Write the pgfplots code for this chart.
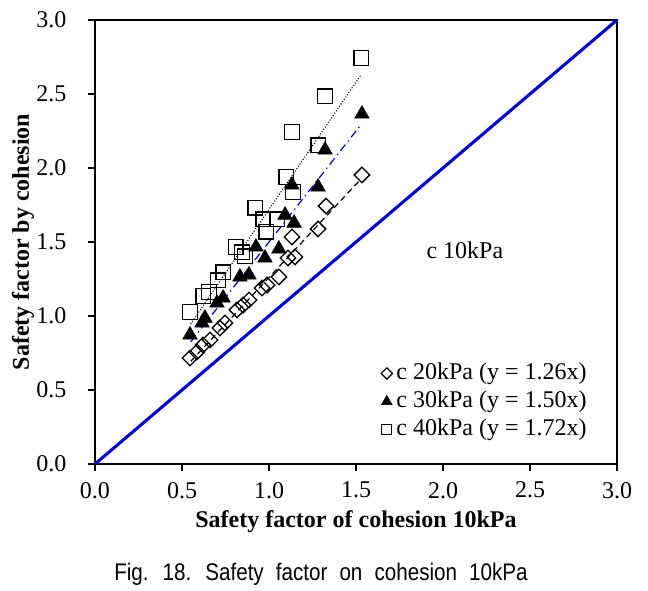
\documentclass[border=0pt]{standalone}
\usepackage{fontspec}
\setmainfont{Liberation Serif}
\newfontfamily\capfont[FakeStretch=0.86, WordSpace=2.1]{Liberation Sans}
\usepackage{pgfplots}
\pgfplotsset{compat=1.18}
\definecolor{lineblue}{RGB}{0,0,220}
\begin{document}
\begin{tikzpicture}
\useasboundingbox (-71.25pt,-95.25pt) rectangle (414.75pt,348pt);
\begin{axis}[
  scale only axis, width=391.5pt, height=333pt,
  xmin=0, xmax=3, ymin=0, ymax=3,
  xtick={0,0.5,1,1.5,2,2.5,3}, ytick={0,0.5,1,1.5,2,2.5,3},
  xtick pos=bottom, ytick pos=left,
  tick align=outside, major tick length=5pt,
  tick style={black, line width=0.8pt},
  axis line style={black, line width=0.8pt},
  /pgf/number format/fixed, /pgf/number format/fixed zerofill,
  /pgf/number format/precision=1, /pgf/number format/assume math mode=true,
  ticklabel style={font=\fontsize{18}{21}\selectfont},
  xticklabel style={yshift=-5pt},
  yticklabel shift=13pt,
  xlabel={Safety factor of cohesion 10kPa},
  ylabel={Safety factor by cohesion},
  label style={font=\bfseries\fontsize{18}{21}\selectfont},
  xlabel style={at={(axis description cs:0.5,-0.13)}, anchor=center},
  ylabel style={at={(axis description cs:-0.138,0.5)}, anchor=center, rotate=0},
  legend style={at={(axis description cs:0.54,0.242)}, anchor=north west, draw=none, fill=none,
    font=\fontsize{18}{21}\selectfont, row sep=0pt,
    nodes={text height=12pt, text depth=3pt, inner sep=3pt}},
  legend cell align=left,
  clip=false,
]
\addplot[lineblue, line width=2.3pt, forget plot] coordinates {(0,0) (3,3)};
% c 20kPa
\addplot[only marks, forget plot, mark=square, mark size=4.1pt, mark options={rotate=45, black, line width=1pt}] coordinates {
(1.534,1.953) (1.328,1.743) (1.282,1.588) (1.132,1.534) (1.149,1.399) (1.109,1.392)
(1.057,1.264) (0.989,1.209) (0.960,1.189) (0.885,1.108) (0.851,1.074) (0.816,1.041)
(0.747,0.953) (0.718,0.919) (0.661,0.838) (0.621,0.804) (0.586,0.757) (0.546,0.716)};
% c 30kPa
\addplot[only marks, forget plot, mark=triangle*, mark size=6.3pt, mark options={black, fill=black}] coordinates {
(1.534,2.365) (1.322,2.122) (1.132,1.885) (1.282,1.872) (1.092,1.682) (1.144,1.628)
(0.925,1.466) (1.057,1.453) (0.977,1.392) (0.885,1.277) (0.833,1.264) (0.736,1.122)
(0.701,1.088) (0.632,0.986) (0.615,0.953) (0.546,0.872)};
% c 40kPa
\addplot[only marks, forget plot, mark=square, mark size=5.5pt, mark options={black, line width=1.2pt}] coordinates {
(1.529,2.743) (1.322,2.486) (1.132,2.243) (1.282,2.155) (1.098,1.939) (1.138,1.838)
(0.920,1.730) (0.966,1.655) (1.046,1.655) (0.983,1.568) (0.810,1.466) (0.845,1.432)
(0.862,1.405) (0.736,1.297) (0.707,1.243) (0.655,1.162) (0.621,1.135) (0.546,1.027)};
% trend lines
\addplot[black, line width=0.9pt, dash pattern=on 4.5pt off 3pt, forget plot] coordinates {(0.55,0.693) (1.53,1.928)};
\addplot[lineblue, line width=0.9pt, dash pattern=on 6pt off 3pt on 1pt off 3pt, forget plot] coordinates {(0.55,0.825) (1.53,2.295)};
\addplot[black, line width=0.8pt, dash pattern=on 0.8pt off 1.3pt, forget plot] coordinates {(0.55,0.946) (1.53,2.632)};
\node[font=\fontsize{18}{21}\selectfont] at (axis cs:2.126,1.446) {c 10kPa};
\addlegendimage{only marks, mark=square, mark size=3pt, mark options={rotate=45, black, line width=0.9pt}}
\addlegendentry{c 20kPa (y = 1.26x)}
\addlegendimage{only marks, mark=triangle*, mark size=4.6pt, mark options={black, fill=black}}
\addlegendentry{c 30kPa (y = 1.50x)}
\addlegendimage{only marks, mark=square, mark size=3.8pt, mark options={black, line width=0.9pt}}
\addlegendentry{c 40kPa (y = 1.72x)}
\end{axis}
\node[font=\capfont\fontsize{18}{21}\selectfont, anchor=base] at (169.5pt,-87.5pt) {Fig. 18. Safety factor on cohesion 10kPa};
\end{tikzpicture}
\end{document}
